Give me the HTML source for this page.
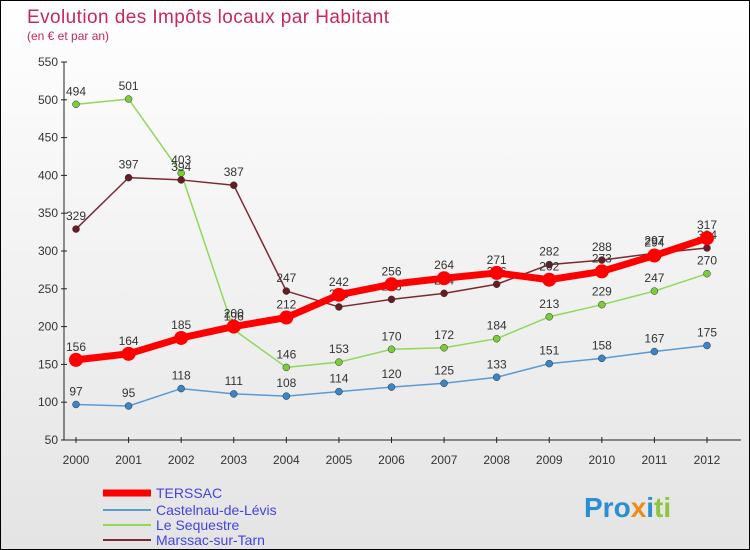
<!DOCTYPE html>
<html><head><meta charset="utf-8"><style>
body{margin:0;}
#wrap{width:750px;height:550px;position:relative;box-sizing:border-box;border:1px solid #000;background:linear-gradient(#fff,#e4e4e4);font-family:"Liberation Sans",sans-serif;overflow:hidden}
</style></head><body>
<div id="wrap">
<svg id="svg" width="750" height="550" style="position:absolute;left:0;top:0">
<text x="26" y="22" font-size="19" textLength="362" fill="#c8285a">Evolution des Impôts locaux par Habitant</text>
<text x="26" y="39" font-size="12" fill="#c8285a">(en € et par an)</text>
<g id="axes"></g><g id="series"></g>
<g>
<line x1="102" y1="492" x2="150" y2="492" stroke="#f00" stroke-width="7"/>
<text x="155" y="497" font-size="14" fill="#4444dd">TERSSAC</text>
<line x1="102" y1="509" x2="150" y2="509" stroke="#5b9bd5" stroke-width="2"/>
<text x="155" y="514" font-size="14" fill="#4444dd">Castelnau-de-Lévis</text>
<line x1="102" y1="524" x2="150" y2="524" stroke="#8fd85a" stroke-width="2"/>
<text x="155" y="529" font-size="14" fill="#4444dd">Le Sequestre</text>
<line x1="102" y1="539" x2="150" y2="539" stroke="#7a2a30" stroke-width="2"/>
<text x="155" y="544" font-size="14" fill="#4444dd">Marssac-sur-Tarn</text>
</g>
<text x="583" y="516" font-size="28" font-weight="bold"><tspan fill="#2a8fd0">Pro</tspan><tspan fill="#f08a1c">x</tspan><tspan fill="#2a8fd0">i</tspan><tspan fill="#8cc63f">ti</tspan></text>
</svg>
</div>
<script>
const years=[2000,2001,2002,2003,2004,2005,2006,2007,2008,2009,2010,2011,2012];
const yTicks=[50,100,150,200,250,300,350,400,450,500,550];
const terssac=[156,164,185,200,212,242,256,264,271,262,273,294,317];
const castelnau=[97,95,118,111,108,114,120,125,133,151,158,167,175];
const sequestre=[494,501,403,196,146,153,170,172,184,213,229,247,270];
const marssac=[329,397,394,387,247,226,236,244,256,282,288,297,304];
const NS="http://www.w3.org/2000/svg";
const X=i=>75+i*(706-75)/12;
const Y=v=>439-(v-50)*378/500;
function mk(tag,attrs,parent){const e=document.createElementNS(NS,tag);for(const k in attrs)e.setAttribute(k,attrs[k]);parent.appendChild(e);return e;}
const ax=document.getElementById('axes');
mk('line',{x1:63,y1:61,x2:63,y2:439,stroke:'#222'},ax);
mk('line',{x1:63,y1:439,x2:740,y2:439,stroke:'#222'},ax);
yTicks.forEach(t=>{
 const g=mk('line',{x1:60,x2:66,y1:Y(t),y2:Y(t),stroke:'#222'},ax);
 
 const l=mk('text',{x:57,y:Y(t)+4,'font-size':12,fill:'#333','text-anchor':'end'},ax);l.textContent=t;
 
 
});
years.forEach((yr,i)=>{
 mk('line',{x1:X(i),x2:X(i),y1:436,y2:442,stroke:'#222'},ax);
 const l=mk('text',{x:X(i),y:463,'font-size':12,fill:'#333','text-anchor':'middle'},ax);l.textContent=yr;
 
 
});
const sg=document.getElementById('series');
function draw(data,color,w,r,name,dot){
 const g=mk('g',{},sg);
 
 
 mk('polyline',{points:data.map((v,i)=>X(i)+','+Y(v)).join(' '),fill:'none',stroke:color,'stroke-width':w,'stroke-linejoin':'round'},g);
 data.forEach((v,i)=>{
  const c=mk('circle',{cx:X(i),cy:Y(v),r:r,fill:dot,stroke:w>3?'none':'#333','stroke-width':0.5},g);
  
  
  const t=mk('text',{x:X(i),y:Y(v)-9,'font-size':12,fill:'#333','text-anchor':'middle'},g);t.textContent=v;
  
  
 });
}
draw(castelnau,'#5b9bd5',1.5,3.5,'castelnau','#3a85c8');
draw(sequestre,'#8fd85a',1.5,3.5,'sequestre','#7acc3a');
draw(marssac,'#7a2a30',1.5,3.5,'marssac','#6a1a22');
draw(terssac,'#ff0000',7,7,'terssac','#ff0000');
</script>
</body></html>
